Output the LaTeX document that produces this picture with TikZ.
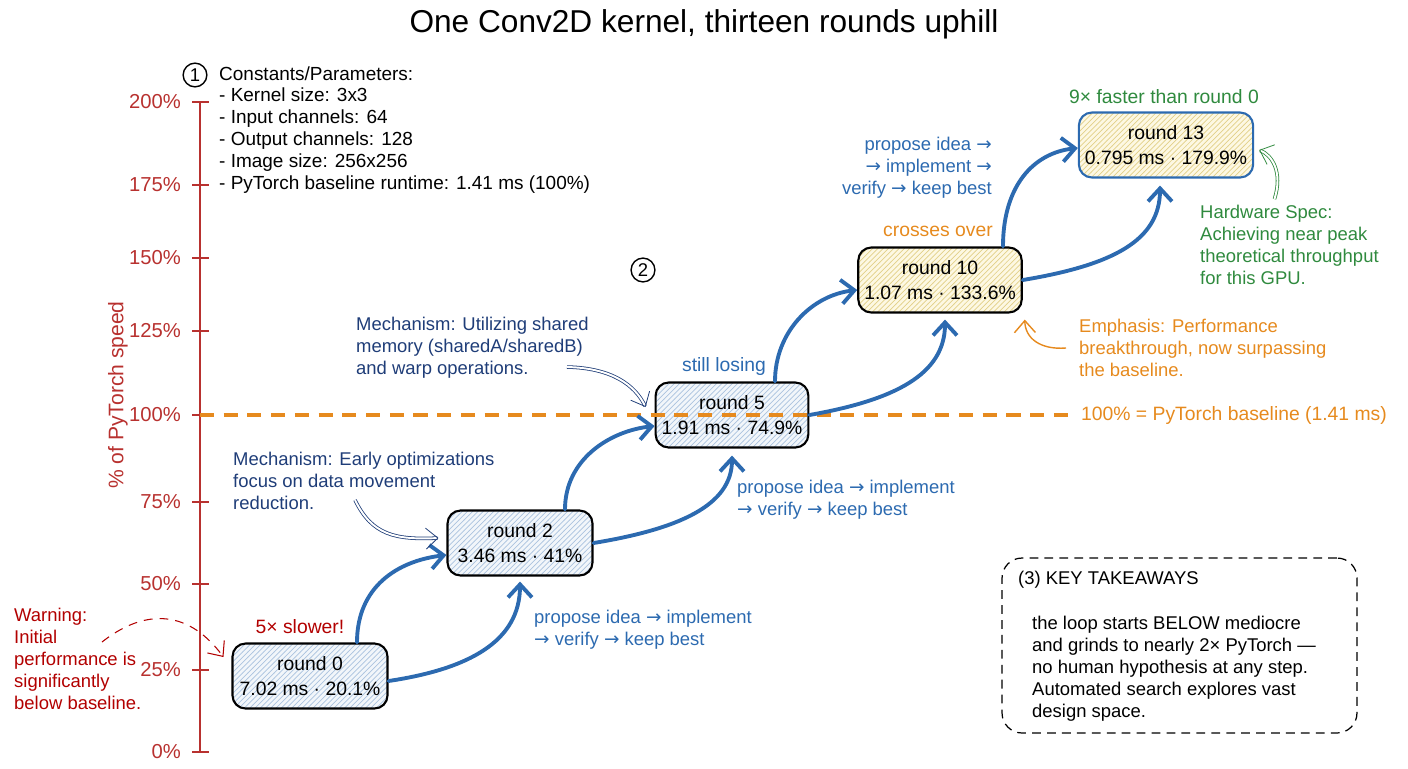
\documentclass[tikz,border=0pt]{standalone}
\usepackage{fontspec}
\setmainfont{Liberation Sans}
\newfontfamily\arrowfont{DejaVu Sans}
\newcommand\nextstep{{\arrowfont →}}
\usepackage{xcolor}
\definecolor{colAxis}{HTML}{B8312F}
\definecolor{colFlow}{HTML}{2C6AB0}
\definecolor{colNote}{HTML}{1F3D78}
\definecolor{colBase}{HTML}{E68A1E}
\definecolor{colGreen}{HTML}{2F8A3E}
\colorlet{colBoxBlue}{colFlow!6}
\colorlet{colHatchBlue}{colFlow!40}
\definecolor{colBoxYellow}{HTML}{FDF8E3}
\definecolor{colHatchYellow}{HTML}{E2D088}
\usepackage{tikz}
\usetikzlibrary{arrows.meta, positioning, patterns}

\begin{document}
\begin{tikzpicture}[x=0.02cm, y=-0.02cm,
    every node/.style={font=\fontsize{10.5}{12.5}\selectfont},
    boxbase/.style={draw=black, line width=1.2pt, rounded corners=0.26cm, align=center,
      minimum height=1.3cm, minimum width=2.9cm, inner xsep=0.12cm,
      font=\fontsize{11}{14}\selectfont, pattern=north east lines},
    roundbox/.style={boxbase, preaction={fill=colBoxBlue}, pattern color=colHatchBlue},
    goalbox/.style={boxbase, preaction={fill=colBoxYellow}, pattern color=colHatchYellow},
    flow/.style={colFlow, line width=2.2pt, line cap=round, -{Straight Barb[length=2.6mm, width=4.8mm]}},
    note/.style={anchor=west, align=left},
    noteline/.style={line width=0.45pt, double, double distance=1.1pt, -{Straight Barb[length=2.4mm, width=4.2mm]}},
    loopnote/.style={text=colFlow, align=left},
    numcirc/.style={circle, draw=black, line width=0.8pt, inner sep=1.5pt, font=\fontsize{10.5}{12}\selectfont}]
  \useasboundingbox (0,0) rectangle (1408,768);

  \node[font=\fontsize{18}{21}\selectfont] (title) at (704,24) {One Conv2D kernel, thirteen rounds uphill};

  % axis
  \foreach \p/\yy in {0/752,25/670,50/584,75/502,100/415,125/331,150/258,175/185,200/102} {
    \coordinate (t\p) at (200,\yy);
    \draw[colAxis, line width=1.1pt] (192,\yy) -- (209,\yy);
    \node[anchor=east, text=colAxis, font=\fontsize{11.5}{14}\selectfont] (l\p) at (187,\yy) {\p\%};
  }
  \draw[colAxis, line width=1.1pt] (t0) -- (t200);
  \node[rotate=90, text=colAxis, font=\fontsize{12}{14}\selectfont] (ylab) at (118,395) {\% of PyTorch speed};

  % constants
  \node[numcirc] (c1) at (195,75) {1};
  \node[note, font=\fontsize{10.8}{12.5}\selectfont] (consts) at (213,130) {Constants/Parameters:\\- Kernel size: 3x3\\- Input channels: 64\\- Output channels: 128\\- Image size: 256x256\\- PyTorch baseline runtime: 1.41 ms (100\%)};
  \node[numcirc] (c2) at (643,270) {2};

  % rounds
  \node[roundbox, minimum width=3.1cm] (r0) at (310,676) {round 0\\7.02 ms · 20.1\%};
  \node[roundbox] (r2) at (520,543) {round 2\\3.46 ms · 41\%};
  \node[roundbox, minimum width=3.02cm] (r5) at (732,415) {round 5\\1.91 ms · 74.9\%};
  \node[goalbox] (r10) at (940,280) {round 10\\1.07 ms · 133.6\%};
  \node[goalbox, draw=colFlow, minimum width=3.26cm] (r13) at (1166,145) {round 13\\0.795 ms · 179.9\%};

  % baseline
  \node[anchor=west, text=colBase, font=\fontsize{11}{13}\selectfont] (baselbl) at (1075,415) {100\% = PyTorch baseline (1.41 ms)};
  \draw[colBase, line width=2.3pt, dash pattern=on 8pt off 5.5pt] (t100) -- (baselbl.west);

  \node[text=red!70!black, font=\fontsize{11}{13}\selectfont] (slow) at (300,627) {5× slower!};
  \node[text=colFlow, font=\fontsize{11}{13}\selectfont] (losing) at (724,366) {still losing};
  \node[text=colBase, font=\fontsize{11}{13}\selectfont] (cross) at (938,231) {crosses over};
  \node[text=colGreen, font=\fontsize{11}{13}\selectfont] (fast) at (1164,97) {9× faster than round 0};

  % loop arrows
  \draw[flow] ([xshift=0.94cm]r0.north) .. controls +(0,-55) and +(-50,6) .. ([yshift=-0.24cm]r2.west);
  \draw[flow] ([yshift=-0.1cm]r0.east) .. controls +(80,-12) and +(0,60) .. ([yshift=-0.1cm]r2.south);
  \draw[flow] ([xshift=0.9cm]r2.north) .. controls +(0,-50) and +(-45,5) .. ([yshift=-0.22cm]r5.west);
  \draw[flow] (r2.east) .. controls +(85,-14) and +(0,50) .. ([yshift=-0.14cm]r5.south);
  \draw[flow] ([xshift=0.86cm]r5.north) .. controls +(0,-50) and +(-45,5) .. ([yshift=-0.2cm]r10.west);
  \draw[flow] (r5.east) .. controls +(85,-15) and +(0,55) .. ([xshift=0.1cm, yshift=-0.12cm]r10.south);
  \draw[flow] ([xshift=1.26cm]r10.north) .. controls +(0,-60) and +(-45,5) .. ([yshift=-0.06cm]r13.west);
  \draw[flow] (r10.east) .. controls +(90,-15) and +(0,55) .. ([xshift=-0.12cm, yshift=-0.14cm]r13.south);

  \node[loopnote, anchor=west] (loopA) at (528,630) {propose idea \nextstep{} implement\\\nextstep{} verify \nextstep{} keep best};
  \node[loopnote, anchor=west] (loopB) at (731,500) {propose idea \nextstep{} implement\\\nextstep{} verify \nextstep{} keep best};
  \node[loopnote, anchor=east, align=right] (loopC) at (998,168) {propose idea \nextstep\\\nextstep{} implement \nextstep\\verify \nextstep{} keep best};

  % notes
  \node[note, text=red!70!black] (warn) at (8,659) {Warning:\\Initial\\performance is\\significantly\\below baseline.};
  \coordinate (warnstart) at (102,642);
  \draw[red!70!black, line width=0.6pt, dash pattern=on 5pt off 4pt, -{Straight Barb[length=2.4mm, width=4.2mm]}] (warnstart) .. controls (140,612) and (185,605) .. ([xshift=-0.16cm, yshift=0.38cm]r0.west);

  \node[note, text=colNote] (mechA) at (227,481) {Mechanism: Early optimizations\\focus on data movement\\reduction.};
  \coordinate (mechAstart) at (355,500);
  \draw[noteline, colNote] (mechAstart) .. controls (372,535) and (395,540) .. ([xshift=-0.16cm, yshift=0.1cm]r2.west);

  \node[note, text=colNote] (mechB) at (350,348) {Mechanism: Utilizing shared\\memory (sharedA/sharedB)\\and warp operations.};
  \coordinate (mechBstart) at (567,367);
  \draw[noteline, colNote] (mechBstart) .. controls (612,368) and (635,385) .. ([xshift=-0.18cm, yshift=0.16cm]r5.west);

  \node[note, text=colBase] (emph) at (1073,348) {Emphasis: Performance\\breakthrough, now surpassing\\the baseline.};
  \draw[colBase, line width=0.8pt, -{Straight Barb[length=2.4mm, width=4.2mm]}] ([xshift=-0.14cm]emph.west) .. controls (1040,350) and (1025,338) .. ([xshift=0.04cm, yshift=-0.12cm]r10.south east);

  \node[note, text=colGreen] (hw) at (1194,245) {Hardware Spec:\\Achieving near peak\\theoretical throughput\\for this GPU.};
  \draw[noteline, colGreen] ([xshift=-0.3cm]hw.north) .. controls (1283,172) and (1272,155) .. ([xshift=0.1cm, yshift=-0.1cm]r13.east);

  % takeaways
  \node[draw=black, line width=0.7pt, dash pattern=on 5pt off 3.5pt, rounded corners=0.4cm, minimum width=7.1cm, minimum height=3.5cm] (keybox) at (1179.5,645.5) {};
  \node[note] (keytitle) at (1012,580) {(3) KEY TAKEAWAYS};
  \node[note] (keytext) at (1026,669) {the loop starts BELOW mediocre\\and grinds to nearly 2× PyTorch —\\no human hypothesis at any step.\\Automated search explores vast\\design space.};
\end{tikzpicture}
\end{document}
